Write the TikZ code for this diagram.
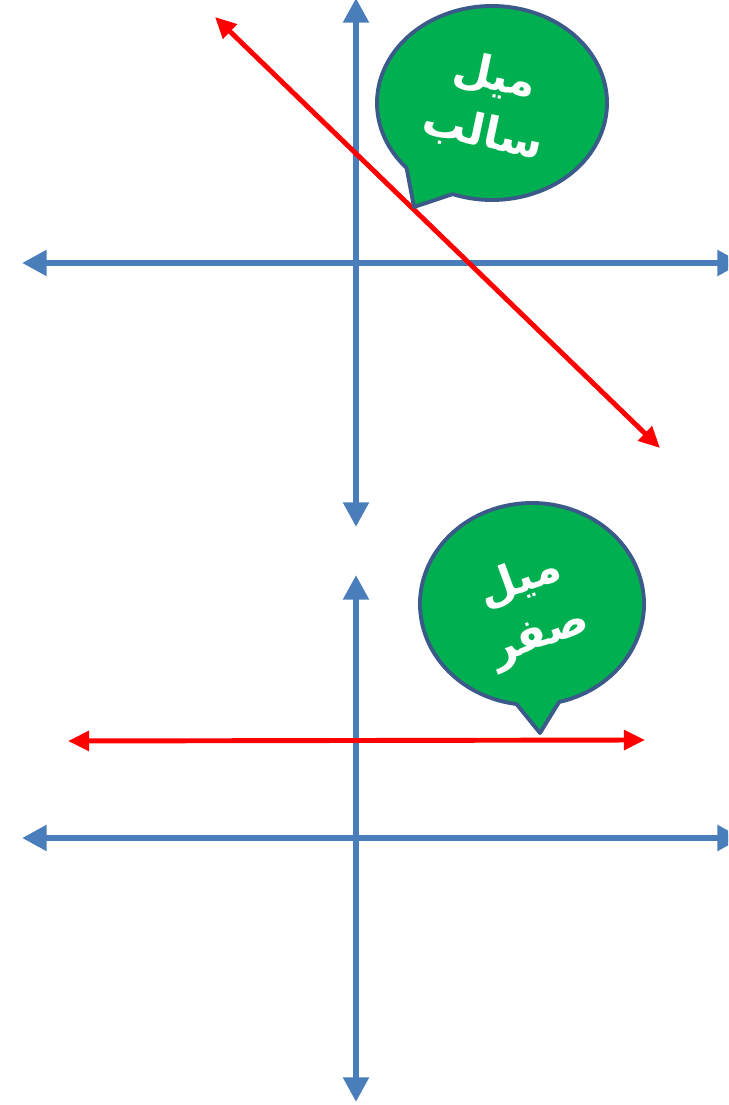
\documentclass[tikz,border=0pt]{standalone}
\usepackage{fontspec}
\usepackage{xcolor}
\usepackage{tikz}
\usetikzlibrary{arrows.meta}
\TeXXeTstate=1
\newfontfamily\arabicfont[Script=Arabic]{DejaVu Sans}
\definecolor{axisblue}{HTML}{4A7EBB}
\definecolor{bubblegreen}{HTML}{00B050}
\definecolor{bubbleedge}{HTML}{3B5A8A}

\begin{document}
\begin{tikzpicture}[
    x=0.02cm, y=0.02cm,
    axis/.style={{Triangle[length=14pt,width=14pt]}-{Triangle[length=14pt,width=14pt]}, line width=3.6pt, draw=axisblue},
    slope/.style={{Triangle[length=12pt,width=11pt]}-{Triangle[length=12pt,width=11pt]}, line width=2.8pt, draw=red},
    bubble/.style={fill=bubblegreen, draw=bubbleedge, line width=2.2pt, line join=round},
    bubbletext/.style={text=white, align=center, font=\arabicfont\bfseries\fontsize{25pt}{33pt}\selectfont, inner sep=0pt}
]
\useasboundingbox (0,0) rectangle (728,1105);
\clip (0,0) rectangle (728,1105);

% upper graph: negative slope
\coordinate (upTop) at (356,1107);
\coordinate (upBottom) at (356,578);
\coordinate (upLeft) at (22,842);
\coordinate (upRight) at (742,842);
\coordinate (negStart) at (215,1088);
\coordinate (negEnd) at (660,657);
\draw[axis] (upLeft) -- (upRight);
\draw[axis] (upBottom) -- (upTop);
\draw[slope] (negStart) -- (negEnd);

\coordinate (negCenter) at (492,1002);
\coordinate (negTip) at (414,898);
\draw[bubble] (negCenter) ++(250:115 and 97) arc[start angle=250, end angle=582, x radius=115, y radius=97] -- (negTip) -- cycle;
\node[bubbletext, rotate=-12] (negLabel) at (489,1000) {\beginR ميل\endR\\\beginR سالب\endR};

% lower graph: zero slope
\coordinate (lowTop) at (356,530);
\coordinate (lowBottom) at (356,3);
\coordinate (lowLeft) at (22,267);
\coordinate (lowRight) at (742,267);
\coordinate (zeroStart) at (68,364);
\coordinate (zeroEnd) at (645,365);
\draw[axis] (lowLeft) -- (lowRight);
\draw[axis] (lowBottom) -- (lowTop);
\draw[slope] (zeroStart) -- (zeroEnd);

\coordinate (zeroCenter) at (532,501);
\coordinate (zeroTip) at (540,372);
\draw[bubble] (zeroCenter) ++(284:112 and 101) arc[start angle=284, end angle=622, x radius=112, y radius=101] -- (zeroTip) -- cycle;
\node[bubbletext, rotate=20] (zeroLabel) at (530,496) {\beginR ميل\endR\\\beginR صفر\endR};
\end{tikzpicture}
\end{document}
